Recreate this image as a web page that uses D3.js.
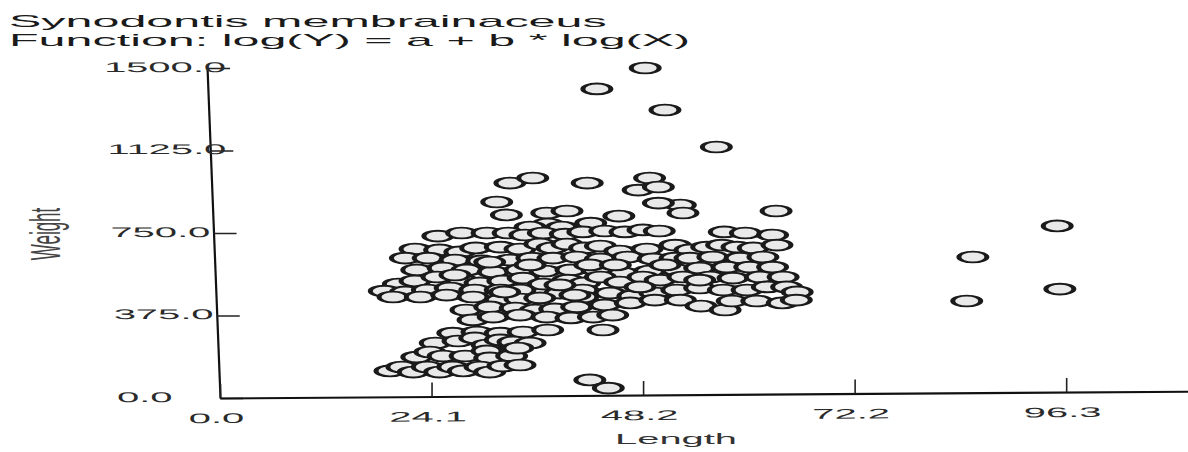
<!DOCTYPE html>
<html><head><meta charset="utf-8">
<script src="https://cdn.jsdelivr.net/npm/d3@7"></script>
<style>body{margin:0;background:#fff}svg{display:block}text{font-family:"Liberation Sans",Arial,sans-serif}</style>
</head><body>
<svg id="chart" width="1188" height="452"></svg>
<script>
const titleLines = ["Synodontis membrainaceus", "Function: log(Y) = a + b * log(X)"];
const xLabel = "Length";
const yLabel = "Weight";
const xTicks = [0, 24.08, 48.16, 72.24, 96.32];
const yTicks = [0, 375, 750, 1125, 1500];
const xDomain = [0, 120.4];
const yDomain = [0, 1500];

const lengths = [
48.4,42.9,50.65,56.5,85.0,85.7,95.3,95.6,63.3,42.1,44.2,43.6,
33.0,35.6,41.8,48.9,47.6,49.9,31.5,32.6,45.4,52.4,52.7,49.9,37.2,39.5,42.2,37.3,35.3,38.9,
24.8,27.5,30.4,32.8,34.7,36.8,39.3,41.3,43.8,46.1,48.15,50.0,57.4,59.8,62.9,
22.2,25.0,27.3,29.1,31.9,34.15,36.4,37.8,39.5,41.5,43.3,45.5,48.6,51.8,53.5,55.4,57.1,58.85,60.7,63.4,
21.1,23.7,26.75,29.8,33.0,35.5,37.9,40.6,43.3,46.4,49.3,51.8,53.5,56.1,59.2,61.8,
22.4,25.4,28.1,31.1,34.15,37.0,39.95,42.9,45.9,48.9,52.0,54.6,57.7,60.3,62.9,
20.3,22.2,24.7,27.5,29.6,32.2,34.5,36.8,39.6,41.5,43.3,45.5,48.15,50.1,52.7,55.8,58.4,61.5,64.1,
18.7,21.1,23.6,26.2,29.0,31.9,34.15,38.7,41.3,44.4,47.0,49.5,52.0,54.6,57.3,60.0,62.3,64.5,65.7,
19.7,22.8,25.8,28.8,31.9,34.15,36.4,41.3,43.8,46.7,49.5,52.4,54.75,57.5,58.3,61.1,64.0,65.6,
28.0,30.7,33.6,35.9,38.1,40.6,
28.8,31.1,34.15,37.2,39.95,42.5,44.7,
26.5,29.25,31.9,34.5,37.3,
24.5,27.1,29.0,30.4,31.9,33.35,35.3,
22.4,23.9,25.4,27.9,30.4,30.7,33.2,33.9,
19.35,20.7,22.0,23.6,25.0,26.5,27.7,29.6,30.7,32.2,34.15,
35.3,42.1,45.0,47.8,38.7,32.4,26.75,30.7,40.4,50.65,54.6
];
const weights = [
1500,1405,1309,1141,441,641,782,495,850,82,45,309,
977,1000,977,1000,945,959,891,832,827,877,841,886,841,850,795,791,777,777,
736,750,750,750,741,750,745,755,759,755,764,759,755,750,741,
677,673,664,682,686,677,700,682,700,682,691,668,677,695,673,686,695,686,682,695,
636,636,627,623,627,636,636,641,632,641,632,636,636,641,636,641,
582,591,582,573,582,577,582,582,568,577,582,591,595,595,595,
518,532,550,536,523,532,545,518,536,523,550,527,550,536,550,550,545,550,550,
486,482,491,500,491,491,491,477,491,477,464,477,491,500,491,491,505,505,482,
459,459,468,459,445,450,455,459,423,432,445,445,418,400,441,441,432,445,
400,414,409,400,405,414,
355,368,377,368,364,368,377,
295,300,295,300,309,
250,259,273,241,264,255,250,
186,209,191,191,214,182,191,227,
123,141,118,141,118,141,123,141,118,145,150,
605,605,605,505,514,482,559,618,468,605,536
];

const svg = d3.select("#chart");
const ox = 220, oy = 398;
const x = d3.scaleLinear().domain(xDomain).range([ox, ox + 120.4 * 8.785]);
const y = d3.scaleLinear().domain(yDomain).range([oy, 68]);
const fmt = d3.format(".1f");
const TS = 2.85; // horizontal stretch of the scanned text

// title
svg.selectAll("text.title").data(titleLines).join("text")
  .attr("class", "title")
  .attr("transform", (d, i) => `translate(9,${26.5 + i * 19.5}) scale(2.85,1)`)
  .attr("font-size", 17).attr("fill", "#1a1a1a").text(d => d);

// y axis (slightly slanted like the scan)
const gy = svg.append("g")
  .attr("transform", `translate(${ox},${oy}) skewX(2.25) translate(${-ox},${-oy})`)
  .append("g").attr("transform", `translate(${ox},0)`)
  .call(d3.axisRight(y).tickValues(yTicks).tickSize(23).tickSizeOuter(0).tickFormat(fmt));
gy.select(".domain").attr("stroke", "#111").attr("stroke-width", 2.2);
gy.selectAll(".tick line").attr("stroke", "#222").attr("stroke-width", 1.6);
gy.selectAll(".tick text").attr("x", 0).attr("dy", null)
  .attr("text-anchor", "start").attr("font-size", 14).attr("fill", "#2a2a2a")
  .attr("transform", `translate(-103,3) scale(${TS},1)`);

// x axis
const gx = svg.append("g")
  .attr("transform", `translate(${ox},${oy}) skewY(-0.4) translate(${-ox},${-oy})`)
  .append("g").attr("transform", `translate(0,${oy})`)
  .call(d3.axisBottom(x).tickValues(xTicks).tickSizeInner(-14).tickSizeOuter(0).tickFormat(fmt));
gx.select(".domain").attr("stroke", "#111").attr("stroke-width", 2.2);
gx.selectAll(".tick line").attr("stroke", "#222").attr("stroke-width", 1.6);
gx.selectAll(".tick text").attr("y", 0).attr("dy", null)
  .attr("text-anchor", "middle").attr("font-size", 14).attr("fill", "#2a2a2a")
  .attr("transform", `translate(-4,25) scale(${TS},1)`);

// axis titles
svg.append("text").attr("transform", `translate(676,444) scale(${TS},1)`)
  .attr("text-anchor", "middle").attr("font-size", 14).attr("fill", "#333").text(xLabel);
svg.append("text").attr("transform", "translate(45,234) scale(2.45,1) rotate(-90)")
  .attr("text-anchor", "middle").attr("dy", "0.35em").attr("font-size", 17).attr("fill", "#444").text(yLabel);

// points
const n = Math.min(lengths.length, weights.length);
const pts = d3.range(n).map(i => ({l: lengths[i], w: weights[i]}));
svg.append("g").selectAll("circle").data(pts).join("circle")
  .attr("r", 5.4)
  .attr("transform", d => `translate(${x(d.l)},${y(d.w)}) scale(2.6,1)`)
  .attr("fill", "#e9e9e9").attr("stroke", "#1a1a1a").attr("stroke-width", 1.9);
</script>
</body></html>
